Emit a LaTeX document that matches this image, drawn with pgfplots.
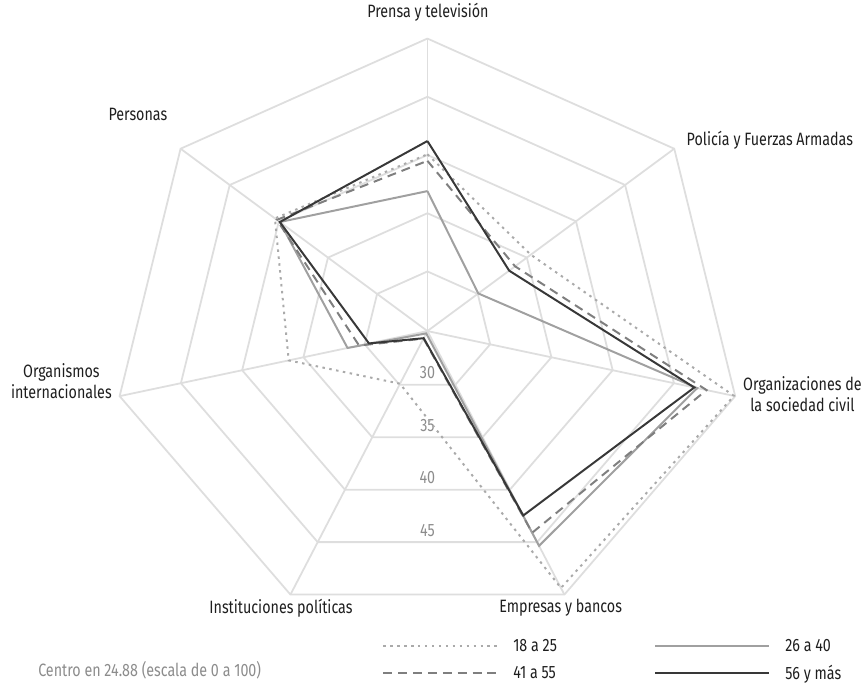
\documentclass[border=0pt]{standalone}
\usepackage{fontspec}
\setmainfont{Fira Sans}[FakeStretch=0.8]
\usepackage{pgfplots}
\pgfplotsset{compat=1.18}
\usepackage{pgfplotstable}
\definecolor{gridc}{HTML}{DEDEDE}
\definecolor{cA}{HTML}{AAAAAA}
\definecolor{cB}{HTML}{A0A0A0}
\definecolor{cC}{HTML}{7F7F7F}
\definecolor{cD}{HTML}{383838}
\definecolor{txt}{HTML}{1E1E1E}
\definecolor{lbl}{HTML}{8C8C8C}

% angle (deg), values for each age group (scale 0-100, centre at 24.88)
\pgfplotstableread{
a        v1     v2     v3     v4
90       40.06  36.9   39.5   41.2
38.571   35.4   30.06  33.8   33.2
-12.857  49.9   46.9   47.66  46.66
-64.286  49.37  45.35  44.1   42.46
-115.714 29.9   25.1   25.6   25.56
-167.143 36.2   31.4   30.46  29.65
141.429  40.4   39.9   40.2   39.9
90       40.06  36.9   39.5   41.2
}\datatable

\begin{document}
\begin{tikzpicture}
\begin{axis}[
  scale only axis, width=865bp, height=687bp,
  xmin=-1.3538, xmax=1.3664, ymin=-1.2016, ymax=1.1303,
  hide axis, clip=false,
  font=\fontsize{18bp}{21bp}\selectfont,
  legend columns=2,
  legend image code/.code={\draw[#1] (0bp,0bp) -- (115bp,0bp); \path[draw=none] (115bp,0bp) -- (131bp,0bp);},
  legend style={draw=none, fill=none, at={(axis cs:-0.1431,-1.125)}, anchor=west,
    inner sep=0pt, outer sep=0pt, row sep=12bp,
    nodes={inner sep=0pt, text=txt},
    /tikz/every even column/.append style={column sep=98bp},
    font=\fontsize{18bp}{21bp}\selectfont},
  legend cell align=left,
]
\path (rel axis cs:0,0) rectangle (rel axis cs:1,1);
% rings
\pgfplotsinvokeforeach{30,35,40,45,50}{
  \addplot[gridc, line width=1.8bp, forget plot] table[
    x expr={(#1-24.88)/25.12*cos(\thisrow{a})},
    y expr={(#1-24.88)/25.12*sin(\thisrow{a})}] {\datatable};
}
% spokes
\pgfplotsinvokeforeach{90,38.571,-12.857,-64.286,-115.714,-167.143,141.429}{
  \addplot[gridc, line width=1.8bp, forget plot] coordinates {(0,0) ({cos(#1)},{sin(#1)})};
}
% ring labels
\node[lbl] at (axis cs:0,-0.143) {30};
\node[lbl] at (axis cs:0,-0.322) {35};
\node[lbl] at (axis cs:0,-0.5016) {40};
\node[lbl] at (axis cs:0,-0.681) {45};

% series
\addplot[cA, line width=2bp, dash pattern=on 2.5bp off 4.5bp] table[
  x expr={(\thisrow{v1}-24.88)/25.12*cos(\thisrow{a})},
  y expr={(\thisrow{v1}-24.88)/25.12*sin(\thisrow{a})}] {\datatable};
\addlegendentry{18 a 25}
\addplot[cB, line width=2bp] table[
  x expr={(\thisrow{v2}-24.88)/25.12*cos(\thisrow{a})},
  y expr={(\thisrow{v2}-24.88)/25.12*sin(\thisrow{a})}] {\datatable};
\addlegendentry{26 a 40}
\addplot[cC, line width=2bp, dash pattern=on 9bp off 6bp] table[
  x expr={(\thisrow{v3}-24.88)/25.12*cos(\thisrow{a})},
  y expr={(\thisrow{v3}-24.88)/25.12*sin(\thisrow{a})}] {\datatable};
\addlegendentry{41 a 55}
\addplot[cD, line width=2bp] table[
  x expr={(\thisrow{v4}-24.88)/25.12*cos(\thisrow{a})},
  y expr={(\thisrow{v4}-24.88)/25.12*sin(\thisrow{a})}] {\datatable};
\addlegendentry{56 y más}

% category labels
\node[txt] at (axis cs:0.0016,1.0896) {Prensa y televisión};
\node[txt, anchor=west] at (axis cs:0.81,0.652) {Policía y Fuerzas Armadas};
\node[txt, anchor=west, align=center] at (axis cs:0.989,-0.217) {Organizaciones de\\la sociedad civil};
\node[txt] at (axis cs:0.422,-0.947) {Empresas y bancos};
\node[txt] at (axis cs:-0.4638,-0.947) {Instituciones políticas};
\node[txt, anchor=east, align=center] at (axis cs:-0.989,-0.17) {Organismos\\internacionales};
\node[txt, anchor=east] at (axis cs:-0.813,0.74) {Personas};
\node[lbl, anchor=west] at (axis cs:-1.2437,-1.161) {Centro en 24.88 (escala de 0 a 100)};
\end{axis}
\end{tikzpicture}
\end{document}
